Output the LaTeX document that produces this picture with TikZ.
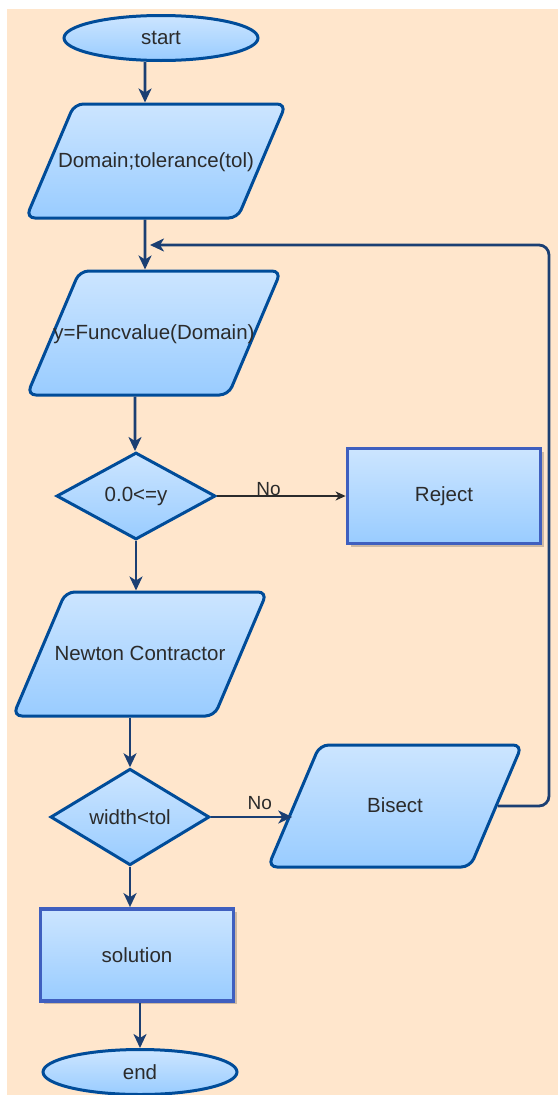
\documentclass[tikz,border=0pt]{standalone}
\usepackage{fontspec}
\setmainfont{Liberation Sans}
\usetikzlibrary{shapes.geometric,arrows.meta,shadows}

\definecolor{peach}{HTML}{FFE6CC}
\definecolor{filltop}{HTML}{CCE5FF}
\definecolor{fillbot}{HTML}{99CCFF}
\definecolor{navy}{HTML}{004C99}
\definecolor{rectblue}{HTML}{3F5FBF}
\definecolor{arrowcol}{HTML}{1B3F73}
\definecolor{txt}{HTML}{2B2B2B}

\tikzset{
	base/.style={draw=navy, line width=3pt, top color=filltop, bottom color=fillbot, text=txt, font=\fontsize{20.5}{24}\selectfont, align=center, inner sep=0pt},
	term/.style={base, ellipse, minimum width=194pt, minimum height=45pt},
	io/.style={base, trapezium, trapezium left angle=67, trapezium right angle=113, trapezium stretches body, rounded corners=9pt, text height=16pt, text depth=4pt, inner ysep=52pt, inner xsep=-60pt, minimum width=254pt},
	decision/.style={base, diamond, minimum width=159pt, minimum height=87pt},
	proc/.style={base, rectangle, draw=rectblue, line width=3.8pt, minimum width=193pt, minimum height=95pt, drop shadow={shadow xshift=3pt, shadow yshift=-3pt, fill=black, opacity=0.2}},
	arr/.style={draw=arrowcol, line width=2.8pt, -{Stealth[length=14pt,width=13pt,inset=4pt]}},
	thinarr/.style={draw=txt, line width=1.3pt, -{Stealth[length=10pt,width=9pt,inset=3pt]}},
	lbl/.style={text=txt, font=\fontsize{19}{22}\selectfont, inner sep=1pt},
}

\begin{document}
\begin{tikzpicture}[x=1pt,y=-1pt]
	\useasboundingbox[fill=white] (0,0) rectangle (558,1095);
	\fill[peach] (7,9) rectangle (558,1095);%Hintergrund

	\node[term] (start) at (161,38) {start};
	\node[io, inner ysep=47pt, minimum width=260pt] (dom) at (156,161) {Domain;tolerance(tol)};
	\node[io] (func) at (154,333) {y=Funcvalue(Domain)};
	\node[decision] (chk) at (136,496) {0.0<=y};
	\node[proc] (rej) at (444,496) {Reject};
	\node[io] (newton) at (140,654) {Newton Contractor};
	\node[decision] (wid) at (130,817) {width<tol};
	\node[io, inner ysep=51pt] (bis) at (395,806) {Bisect};
	\node[proc, minimum height=92pt] (sol) at (137,955) {solution};
	\node[term] (stop) at (140,1072) {end};

	%Pfeile nach unten
	\draw[arr] ([xshift=-16pt]start.south) -- ([xshift=-11pt]dom.north);
	\draw[arr] ([xshift=-11pt]dom.south) -- ([xshift=-9pt]func.north);
	\draw[arr] ([xshift=-19pt]func.south) -- ([xshift=-1pt]chk.north);
	\draw[arr] (chk.south) -- (chk.south |- newton.north);
	\draw[arr] (wid.north |- newton.south) -- (wid.north);
	\draw[arr] (wid.south) -- (wid.south |- sol.north);
	\draw[arr] (sol.south -| stop.north) -- (stop.north);

	%Verzweigungen
	\draw[thinarr] (chk.east) -- node[lbl, pos=0.4, above=-1pt] {No} (rej.west);
	\draw[arr] (wid.east) -- node[lbl, pos=0.6, above=5pt] {No} (wid.east -| bis.west);

	%Rueckfuehrung
	\coordinate (loopin) at (150,245);
	\coordinate (loopturn) at (549,245);
	\draw[arr, rounded corners=10pt] (bis.east) -| (loopturn) -- (loopin);
\end{tikzpicture}
\end{document}
